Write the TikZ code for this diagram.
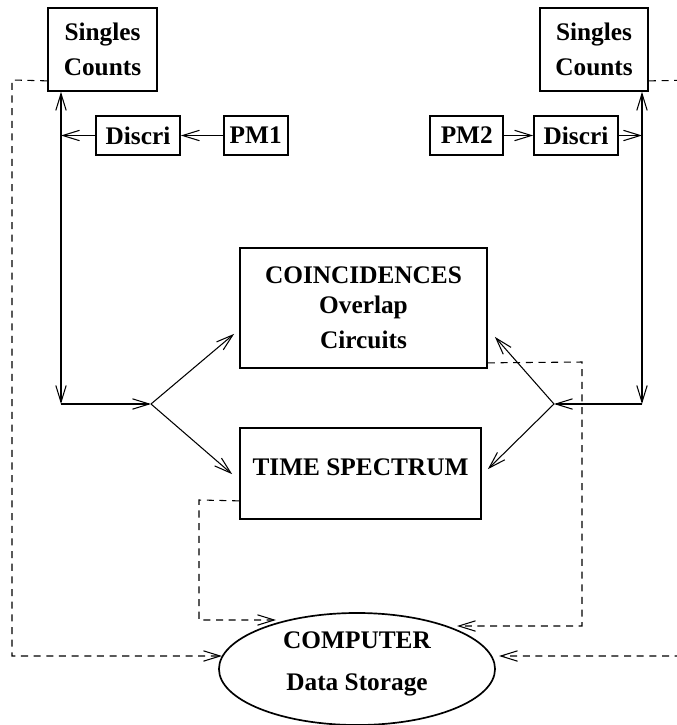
\documentclass[tikz,border=0pt]{standalone}
\usepackage{fontspec}
\setmainfont{Liberation Serif}
\usetikzlibrary{arrows.meta, positioning, shapes.geometric, calc}

\begin{document}
\begin{tikzpicture}[x=0.025cm, y=-0.025cm,
                box/.style={draw, line width=1.2pt, align=center, inner sep=0pt,
                           font=\bfseries\fontsize{18}{25}\selectfont},
                label/.style={font=\bfseries\fontsize{18}{25}\selectfont, inner sep=0pt},
                arrow/.style={-{Straight Barb[length=0.42cm, width=0.26cm]}, line width=0.75pt},
                biarrow/.style={{Straight Barb[length=0.42cm, width=0.26cm]}-{Straight Barb[length=0.42cm, width=0.26cm]}, line width=0.75pt},
                data/.style={arrow, dash pattern=on 5pt off 4pt}]

                \useasboundingbox (0,0) rectangle (677,725);
                \clip (0,0) rectangle (677,725);

                % Singles counters at the top
                \node[box, minimum width=2.725cm, minimum height=2.075cm] (sgl1) at (102.5,49.5) {Singles\\Counts};
                \node[box, minimum width=2.7cm, minimum height=2.075cm] (sgl2) at (594,49.5) {Singles\\Counts};

                % Photomultipliers and discriminators
                \node[box, minimum width=2.1cm, minimum height=0.975cm] (dis1) at (138,135.5) {Discri};
                \node[box, minimum width=1.6cm, minimum height=0.975cm, right=1.05cm of dis1] (pm1) {PM1};
                \node[box, minimum width=2.1cm, minimum height=0.975cm] (dis2) at (576,135.5) {Discri};
                \node[box, minimum width=1.825cm, minimum height=0.975cm, left=0.725cm of dis2] (pm2) {PM2};

                % Coincidence unit and time spectrum in the middle
                \node[box, minimum width=6.175cm, minimum height=3cm,
                      font=\bfseries\fontsize{18}{21}\selectfont] (coin) at (363.5,308)
                     {COINCIDENCES\\Overlap\\[4.5pt]Circuits};
                \node[box, minimum width=6.025cm, minimum height=2.275cm] (ts) at (360.5,473.5) {};
                \node[label] (tstxt) at (360.5,467) {TIME SPECTRUM};

                % Computer at the bottom
                \node[box, ellipse, minimum width=6.9cm, minimum height=2.8cm, text depth=11pt] (comp) at (357,669)
                     {COMPUTER\\[5pt]Data Storage};

                % Signal lines
                \coordinate (lbus) at (61,404);
                \coordinate (rbus) at (642,404);
                \coordinate (lfork) at (151,404);
                \coordinate (rfork) at (554,404);

                \draw[arrow] (pm1) -- (dis1);
                \draw[arrow] (dis1.west) -- (dis1.west -| lbus);
                \draw[arrow] (pm2) -- (dis2);
                \draw[arrow] (dis2.east) -- (dis2.east -| rbus);
                \draw[biarrow] (lbus |- sgl1.south) -- (lbus);
                \draw[biarrow] (rbus |- sgl2.south) -- (rbus);
                \draw[arrow] (lbus) -- (lfork);
                \draw[arrow] (rbus) -- (rfork);
                \draw[arrow] (lfork) -- ($(coin.south west)+(-5,-35)$);
                \draw[arrow] (lfork) -- ($(ts.north west)+(-7,47)$);
                \draw[arrow] (rfork) -- ($(coin.south east)+(7,-32)$);
                \draw[arrow] (rfork) -- ($(ts.north east)+(6,42)$);

                % Data lines to the computer
                \draw[data] ($(sgl1.south west)+(0,-11)$) -- (12,80) -- (12,656) -- ($(comp.center)+(-135,-13)$);
                \draw[data] ($(sgl2.south east)+(0,-11)$) -- (700,80) -- (700,656) -- ($(comp.center)+(142,-13)$);
                \draw[data] ($(coin.south east)+(0,-6)$) -- (582,362) -- (582,626) -- ($(comp.center)+(100,-43)$);
                \draw[data] ($(ts.south west)+(0,-19)$) -- (199,500) -- (199,620) -- ($(comp.center)+(-81,-49)$);
            \end{tikzpicture}
\end{document}
